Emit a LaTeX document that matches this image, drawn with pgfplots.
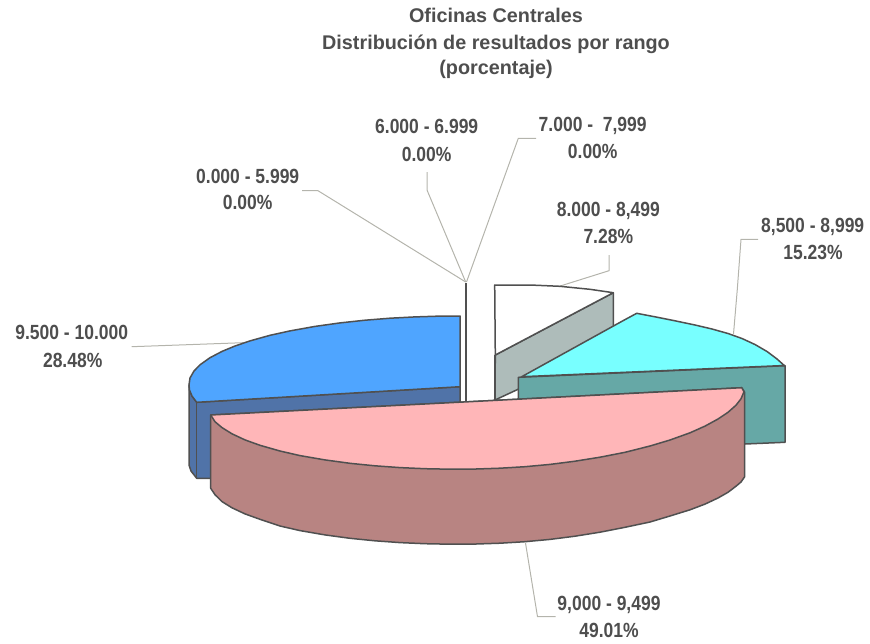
\documentclass[border=0pt]{standalone}
\usepackage{pgfplots}
\pgfplotsset{compat=1.18}
\usepackage{fontspec}
\setmainfont{Liberation Sans}

\definecolor{edge}{HTML}{505050}
\definecolor{leader}{HTML}{B4B4AC}
\definecolor{txt}{HTML}{4E4E4E}
\definecolor{bluetop}{HTML}{4FA5FF}
\definecolor{blueside}{HTML}{5073A8}
\definecolor{pinktop}{HTML}{FFB6B8}
\definecolor{pinkside}{HTML}{B88482}
\definecolor{cyantop}{HTML}{78FFFF}
\definecolor{cyanside}{HTML}{66A8A6}
\definecolor{grayside}{HTML}{AEBCBA}

\newcommand{\lab}[3]{\node[text=txt,font=\fontsize{20.5}{20.5}\selectfont\bfseries,xscale=0.853,transform shape,inner sep=0pt,anchor=base] at (axis cs:#1,#2) {#3};}
\newcommand{\ttl}[2]{\node[text=txt,font=\fontsize{19.8}{19.8}\selectfont\bfseries,inner sep=0pt,anchor=base] at (axis cs:496,#1) {#2};}

\begin{document}
\begin{tikzpicture}
\begin{axis}[
    scale only axis,
    width=870pt, height=643pt,
    xmin=0, xmax=870, ymin=0, ymax=643,
    y dir=reverse,
    axis line style={draw=none},
    ticks=none,
    clip=false,
    slice/.style={draw=edge,line width=1.5pt,line join=round},
    lead/.style={draw=leader,line width=1pt,mark=none},
]
% leader lines
\addplot[lead] coordinates {(302,190.7) (318,190.7) (465.7,282)};
\addplot[lead] coordinates {(427,172) (427,190) (465.7,282)};
\addplot[lead] coordinates {(536,138.3) (518.3,138.3) (466.5,282)};
\addplot[lead] coordinates {(609,255) (609,270.7) (558,286.7)};
\addplot[lead] coordinates {(758,239.3) (741,239.3) (737.3,289.3) (733.5,334)};
\addplot[lead] coordinates {(131.7,346.7) (243,342.7)};
\addplot[lead] coordinates {(525.5,543) (537.5,616.7) (555.6,616.7)};

% zero slices seen edge on
\addplot[draw=edge,line width=2pt] coordinates {(465.7,283) (465.7,402)};

% 8.000 - 8,499
\addplot[slice,fill=grayside] coordinates {(495.3,355) (613.3,292.7) (613.3,345) (495,400)} --cycle;
\addplot[slice,fill=white] coordinates {(494.7,285) (530,285) (560,286.3) (590,289.3) (613.3,292.7) (495.3,355)} --cycle;
\addplot[draw=edge,line width=1.5pt] coordinates {(494.7,355) (494.7,400)};

% 8,500 - 8,999
\addplot[slice,fill=cyanside] coordinates {(518.3,377.3) (785,365.7) (785,442.3) (745,444) (518.3,420)} --cycle;
\addplot[slice,fill=cyantop] coordinates {(521.7,376.7) (623,320.7) (636.7,313.3) (655,316.8) (675,320.8) (695,325) (712,329) (728,333.5) (742,338.5) (755,344.5) (767,351.5) (777,359) (784.3,365.5)} --cycle;

% 9.500 - 10.000
\addplot[slice,fill=blueside] coordinates {(189,385) (189.5,390) (192,396) (196.7,402.3) (460,386.7) (460,410) (300,478.3) (196.7,478.3) (191,471) (189,465)} --cycle;
\addplot[slice,fill=bluetop] coordinates {(460,316) (440,316.1) (415,316.9) (390,318.2) (365,320.2) (340,322.9) (315,326.4) (290,330.9) (270,335.3) (250,340.9) (235,346) (222,351.4) (210,357.7) (200,364.8) (194,371) (190,378) (189,385) (189.5,390) (192,396) (196.7,402.3) (460,386.7)} --cycle;
\addplot[draw=edge,line width=1.2pt] coordinates {(196.7,402.3) (196.7,478.3)};

% 9,000 - 9,499
\addplot[slice,fill=pinkside] coordinates {(210.7,415) (741.7,387.7) (744.5,392) (744.5,477) (741,482) (736,486.2) (728,492.3) (718,498) (705,504.1) (690,509.8) (670,516) (650,522) (625,527.3) (600,532.2) (575,536.2) (550,539.4) (525,541.7) (500,543.2) (476,544) (450,544.2) (425,543.7) (400,542.6) (375,540.8) (350,538.3) (325,534.9) (300,530.6) (280,526) (260,519.3) (245,513.9) (232,507.8) (222,501.6) (215,494.7) (210.7,488.3)} --cycle;
\addplot[slice,fill=pinktop] coordinates {(210.7,415) (215,421.7) (222,427.6) (232,433.8) (245,439.9) (260,445.3) (280,451) (300,455.6) (325,459.9) (350,463.3) (375,465.8) (400,467.6) (425,468.7) (450,469.2) (476,469) (500,468.2) (525,466.7) (550,464.4) (575,461.2) (600,457.2) (625,452.3) (650,446) (670,440) (690,432.8) (705,426.1) (718,419) (728,412.3) (736,405.2) (741,398.8) (744,391.7) (741.7,387.7)} --cycle;

% title
\ttl{22.5}{Oficinas Centrales}
\ttl{49}{Distribución de resultados por rango}
\ttl{74.5}{(porcentaje)}

% labels
\lab{247.7}{183.5}{0.000 - 5.999}
\lab{247.7}{209.5}{0.00\%}
\lab{426.7}{133.5}{6.000 - 6.999}
\lab{426.7}{161}{0.00\%}
\lab{592.7}{131}{7.000 -\ \ 7,999}
\lab{592.7}{158.5}{0.00\%}
\lab{608.3}{216}{8.000 - 8,499}
\lab{608.3}{243.5}{7.28\%}
\lab{812.7}{232}{8,500 - 8,999}
\lab{813}{259}{15.23\%}
\lab{71.7}{339}{9.500 - 10.000}
\lab{72.7}{367}{28.48\%}
\lab{609}{610}{9,000 - 9,499}
\lab{609}{637}{49.01\%}
\end{axis}
\end{tikzpicture}
\end{document}
